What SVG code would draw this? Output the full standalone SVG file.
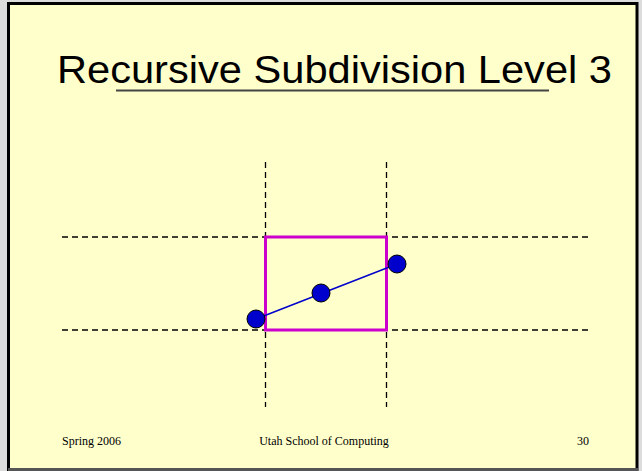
<svg xmlns="http://www.w3.org/2000/svg" width="642" height="471" viewBox="0 0 642 471">
<style>
.grid{stroke:#000;stroke-width:1.3;stroke-dasharray:6 4;fill:none}
.dot{fill:#0000CC;stroke:#000;stroke-width:1}
.foot{font-family:"Liberation Serif",serif;font-size:12px;fill:#000}
</style>
<rect x="0" y="0" width="642" height="471" fill="#DCDCDC"/>
<rect x="8.5" y="3.5" width="628.5" height="466" fill="#FFFFCC" stroke="#000" stroke-width="3"/>
<line x1="8" y1="469.5" x2="638" y2="469.5" stroke="#555" stroke-width="3"/>
<g id="title">
<text x="57" y="83" font-family="Liberation Sans, Arial, sans-serif" font-size="39.5" textLength="555" lengthAdjust="spacingAndGlyphs" fill="#000">Recursive Subdivision Level 3</text>
<line x1="116" y1="90.5" x2="549" y2="90.5" stroke="#444" stroke-width="2"/>
</g>
<g id="connectors">
<line class="grid" x1="62" y1="237" x2="588" y2="237"/>
<line class="grid" x1="62" y1="330" x2="588" y2="330"/>
<line class="grid" x1="265.5" y1="162" x2="265.5" y2="407"/>
<line class="grid" x1="386.5" y1="162" x2="386.5" y2="407"/>
<rect x="265.5" y="237" width="121" height="93" fill="none" stroke="#CC00CC" stroke-width="3"/>
<line x1="256" y1="319" x2="397" y2="264" stroke="#0000CC" stroke-width="1.5"/>
</g>
<g id="p1"><circle class="dot" cx="256" cy="319" r="9"/></g>
<g id="p2"><circle class="dot" cx="321" cy="293" r="9"/></g>
<g id="p3"><circle class="dot" cx="397" cy="264" r="9"/></g>
<g id="footer">
<text class="foot" x="62" y="445">Spring 2006</text>
<text class="foot" x="324" y="445" text-anchor="middle">Utah School of Computing</text>
<text class="foot" x="589" y="445" text-anchor="end">30</text>
</g>
</svg>
